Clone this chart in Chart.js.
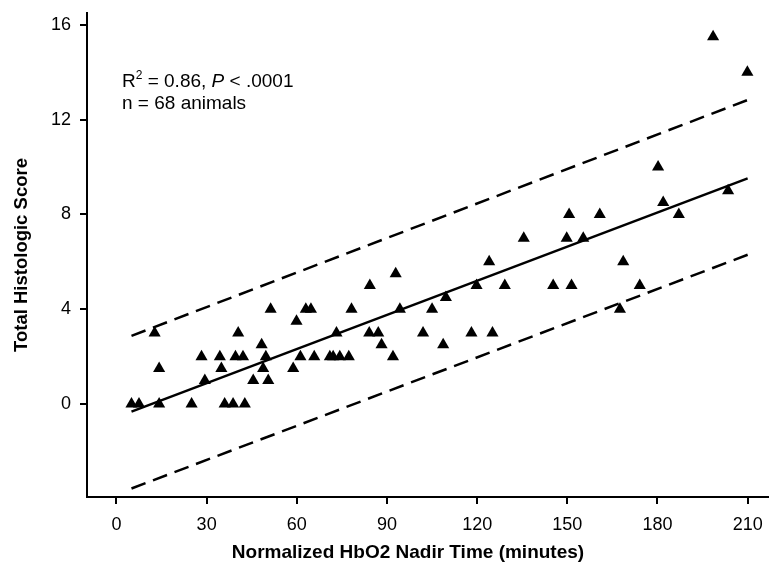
<!DOCTYPE html>
<html>
<head>
<meta charset="utf-8">
<script src="https://cdn.jsdelivr.net/npm/chart.js@4"></script>
<style>
  html, body { margin: 0; padding: 0; background: #fff; }
  #wrap { width: 769px; height: 577px; }
</style>
</head>
<body>
<div id="wrap"><canvas id="chart" width="769" height="577"></canvas></div>
<script>
// scatter points
var nadirTime = [5, 7.5, 12.7, 14.2, 14.2, 25, 29.4, 28.3, 34.4, 34.9, 36, 38.8, 40.5, 39.6, 42.1, 42.7,
  48.3, 49.7, 48.8, 45.5, 50.5, 51.3, 58.8, 61.2, 59.9, 63, 64.7, 65.8, 71, 72.1, 74.3, 77.3,
  73.2, 78.2, 84.3, 84.1, 87.1, 88.2, 92, 92.9, 94.3, 102, 105, 108.7, 109.6, 118.1, 119.8, 124,
  125.1, 129.2, 135.5, 145.3, 149.8, 150.6, 151.4, 155.3, 160.8, 168.6, 167.5, 174.1, 180.2, 181.9,
  187.1, 203.5, 198.5, 209.9];
var histScore = [0, 0, 3, 1.5, 0, 0, 1, 2, 2, 1.5, 0, 0, 3, 2, 2, 0,
  2.5, 2, 1.5, 1, 1, 4, 1.5, 2, 3.5, 4, 4, 2, 2, 2, 2, 2,
  3, 4, 5, 3, 3, 2.5, 2, 5.5, 4, 3, 4, 2.5, 4.5, 3, 5, 6,
  3, 5, 7, 5, 7, 8, 5, 7, 8, 6, 4, 5, 10, 8.5,
  8, 9, 15.5, 14];

// regression line and prediction band, ends
var lineX = [5, 210];
var fitY = [-0.32, 9.52];
var upperY = [2.88, 12.83];
var lowerY = [-3.56, 6.3];

var xTicks = [0, 30, 60, 90, 120, 150, 180, 210];
var yTicks = [0, 4, 8, 12, 16];

var FONT = '"Liberation Sans", Arial, Helvetica, sans-serif';

function pairs(xs, ys) {
  return xs.map(function (x, i) { return { x: x, y: ys[i] }; });
}

// fixed box sizes so the plot area lands where the original has it
function noPad(s) {
  s.paddingLeft = 0; s.paddingRight = 0; s.paddingTop = 0; s.paddingBottom = 0;
}

var statsText = {
  id: 'statsText',
  afterDraw: function (chart) {
    var ctx = chart.ctx;
    ctx.save();
    ctx.fillStyle = '#000';
    ctx.textBaseline = 'alphabetic';
    var x = 122, y1 = 87, y2 = 109;
    ctx.font = '19px ' + FONT;
    ctx.fillText('R', x, y1);
    x += ctx.measureText('R').width;
    ctx.font = '12px ' + FONT;
    ctx.fillText('2', x, y1 - 8);
    x += ctx.measureText('2').width;
    ctx.font = '19px ' + FONT;
    var s = ' = 0.86, ';
    ctx.fillText(s, x, y1);
    x += ctx.measureText(s).width;
    ctx.font = 'italic 19px ' + FONT;
    ctx.fillText('P', x, y1);
    x += ctx.measureText('P').width;
    ctx.font = '19px ' + FONT;
    ctx.fillText(' < .0001', x, y1);
    ctx.fillText('n = 68 animals', 122, y2);

    // x axis title, centred a little left of the plot middle as in the original
    ctx.font = 'bold 19px ' + FONT;
    ctx.textAlign = 'center';
    ctx.textBaseline = 'middle';
    ctx.fillText('Normalized HbO2 Nadir Time (minutes)', 408, 553);
    ctx.restore();
  }
};

var ctx = document.getElementById('chart').getContext('2d');
var chart = new Chart(ctx, {
  type: 'scatter',
  data: {
    datasets: [{
      label: 'Animals',
      data: pairs(nadirTime, histScore),
      pointStyle: 'triangle',
      pointRadius: 7,
      backgroundColor: '#000',
      borderColor: '#000',
      borderWidth: 0
    }, {
      label: 'Fit',
      data: pairs(lineX, fitY),
      showLine: true,
      pointRadius: 0,
      borderColor: '#000',
      borderWidth: 2.5
    }, {
      label: 'Upper',
      data: pairs(lineX, upperY),
      showLine: true,
      pointRadius: 0,
      borderColor: '#000',
      borderWidth: 2.5,
      borderDash: [15, 8]
    }, {
      label: 'Lower',
      data: pairs(lineX, lowerY),
      showLine: true,
      pointRadius: 0,
      borderColor: '#000',
      borderWidth: 2.5,
      borderDash: [15, 8]
    }]
  },
  options: {
    responsive: false,
    animation: false,
    layout: { autoPadding: false, padding: { top: 13, right: 0, left: 0, bottom: 0 } },
    plugins: {
      legend: { display: false },
      tooltip: { enabled: false }
    },
    scales: {
      x: {
        type: 'linear',
        min: -9.8,
        max: 217.1,
        afterBuildTicks: function (s) { s.ticks = xTicks.map(function (v) { return { value: v }; }); },
        afterFit: function (s) { s.height = 80; noPad(s); },
        grid: { display: true, drawOnChartArea: false, drawTicks: true, tickLength: 7, color: '#000', lineWidth: 2 },
        border: { display: true, color: '#000', width: 2 },
        ticks: { color: '#000', font: { family: FONT, size: 18 }, padding: 10, maxRotation: 0 }
      },
      y: {
        type: 'linear',
        min: -3.92,
        max: 16.5,
        afterBuildTicks: function (s) { s.ticks = yTicks.map(function (v) { return { value: v }; }); },
        afterFit: function (s) { s.width = 87; noPad(s); },
        grid: { display: true, drawOnChartArea: false, drawTicks: true, tickLength: 7, color: '#000', lineWidth: 2 },
        border: { display: true, color: '#000', width: 2 },
        ticks: { color: '#000', font: { family: FONT, size: 18 }, padding: 9 },
        title: {
          display: true,
          text: 'Total Histologic Score',
          color: '#000',
          font: { family: FONT, size: 18.5, weight: 'bold' },
          padding: { top: 11, bottom: 0 }
        }
      }
    }
  },
  plugins: [statsText]
});
</script>
</body>
</html>
